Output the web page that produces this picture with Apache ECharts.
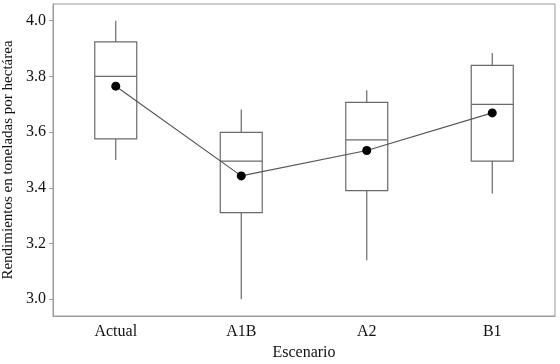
<!DOCTYPE html>
<html><head><meta charset="utf-8">
<script src="https://cdn.jsdelivr.net/npm/echarts@6/dist/echarts.min.js"></script>
<style>html,body{margin:0;padding:0;background:#fff}#c{width:560px;height:364px}</style>
</head><body><div id="c"></div>
<script>
const categories = ['Actual', 'A1B', 'A2', 'B1'];
const whiskerLow  = [3.50, 3.00, 3.14, 3.38];
const q1          = [3.576, 3.311, 3.39, 3.496];
const medians     = [3.80, 3.496, 3.572, 3.70];
const q3          = [3.924, 3.599, 3.707, 3.84];
const whiskerHigh = [4.00, 3.681, 3.75, 3.884];
const means       = [3.765, 3.443, 3.534, 3.669];
const yTicks      = [3.0, 3.2, 3.4, 3.6, 3.8, 4.0];

const boxData = categories.map((c, i) => [i, whiskerLow[i], q1[i], medians[i], q3[i], whiskerHigh[i]]);
const font = 'Liberation Serif';
const boxColor = '#6a6a6a';
const BOX_W = 42;

function renderBox(params, api) {
  const i = api.value(0);
  const pLow = api.coord([i, api.value(1)]);
  const pQ1 = api.coord([i, api.value(2)]);
  const pMed = api.coord([i, api.value(3)]);
  const pQ3 = api.coord([i, api.value(4)]);
  const pHigh = api.coord([i, api.value(5)]);
  const x = pQ1[0], hw = BOX_W / 2;
  const st = { stroke: boxColor, lineWidth: 1.2, fill: null };
  return {
    type: 'group',
    children: [
      { type: 'line', shape: { x1: x, y1: pHigh[1], x2: x, y2: pQ3[1] }, style: st },
      { type: 'line', shape: { x1: x, y1: pQ1[1], x2: x, y2: pLow[1] }, style: st },
      { type: 'rect', shape: { x: x - hw, y: pQ3[1], width: BOX_W, height: pQ1[1] - pQ3[1] },
        style: { stroke: boxColor, lineWidth: 1.2, fill: '#fff' } },
      { type: 'line', shape: { x1: x - hw, y1: pMed[1], x2: x + hw, y2: pMed[1] }, style: st }
    ]
  };
}

const chart = echarts.init(document.getElementById('c'));
chart.setOption({
  animation: false,
  backgroundColor: '#fff',
  grid: { left: 53, right: 5, top: 4, bottom: 48, show: true, borderColor: '#9a9a9a', borderWidth: 1,
    containLabel: false, outerBoundsMode: 'none' },
  xAxis: {
    type: 'category', data: categories, boundaryGap: true,
    name: 'Escenario', nameLocation: 'middle', nameGap: 29,
    nameTextStyle: { fontFamily: font, fontSize: 16, color: '#111' },
    axisLine: { lineStyle: { color: '#9a9a9a' } },
    axisTick: { alignWithLabel: true, length: 4, lineStyle: { color: '#9a9a9a' } },
    axisLabel: { fontFamily: font, fontSize: 16, color: '#111', margin: 8 },
    splitLine: { show: false }
  },
  yAxis: {
    type: 'value', min: 2.94, max: 4.06,
    name: 'Rendimientos en toneladas por hectárea', nameLocation: 'middle', nameGap: 35, nameRotate: 90,
    nameTextStyle: { fontFamily: font, fontSize: 15, color: '#111' },
    axisLine: { show: true, lineStyle: { color: '#9a9a9a' } },
    axisTick: { show: true, length: 4, customValues: yTicks, lineStyle: { color: '#9a9a9a' } },
    axisLabel: { fontFamily: font, fontSize: 16, color: '#111', margin: 7, customValues: yTicks,
      formatter: v => v.toFixed(1) },
    splitLine: { show: false }
  },
  series: [
    {
      type: 'custom', data: boxData, renderItem: renderBox,
      encode: { x: 0, y: [1, 2, 3, 4, 5] }, z: 2
    },
    {
      type: 'line', data: means, symbol: 'circle', symbolSize: 9,
      lineStyle: { color: '#555', width: 1.2 },
      itemStyle: { color: '#000' }, z: 5
    }
  ]
});
</script></body></html>
